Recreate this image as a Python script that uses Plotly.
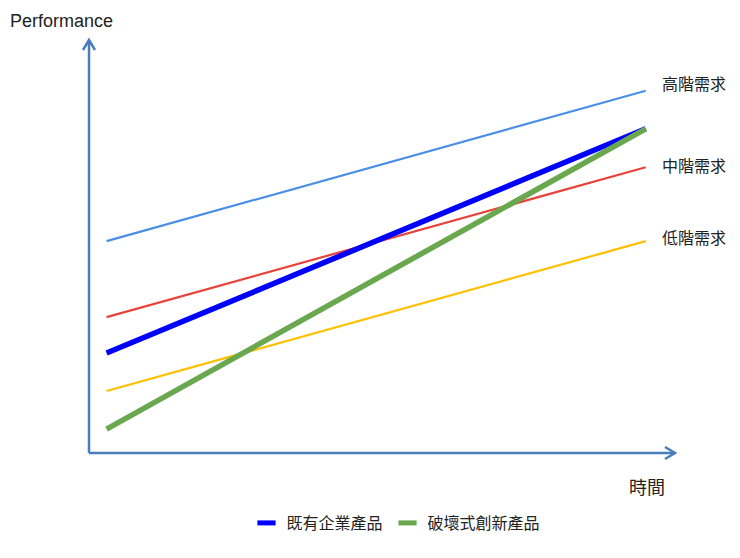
import plotly.graph_objects as go

x_vals = [3, 95]
high_demand = [51.3, 87.7]
mid_demand = [32.9, 69.2]
low_demand = [15.0, 51.3]
incumbent = [24.2, 78.5]
disruptive = [5.8, 78.5]

demand_labels = ["高階需求", "中階需求", "低階需求"]
legend_names = ["既有企業產品", "破壞式創新產品"]
x_title = "時間"
y_title = "Performance"

CJK = "Noto Sans CJK TC"
AXIS_COLOR = "#4a7ebb"
BLUE = "#0000ff"
GREEN = "#6aa84f"

fig = go.Figure()
fig.add_trace(go.Scatter(x=x_vals, y=high_demand, mode="lines",
                         line=dict(color="#4a8fe7", width=2.2), showlegend=False))
fig.add_trace(go.Scatter(x=x_vals, y=mid_demand, mode="lines",
                         line=dict(color="#e8433a", width=2.2), showlegend=False))
fig.add_trace(go.Scatter(x=x_vals, y=low_demand, mode="lines",
                         line=dict(color="#ffc000", width=2.2), showlegend=False))
fig.add_trace(go.Scatter(x=x_vals, y=incumbent, mode="lines", name=legend_names[0],
                         line=dict(color=BLUE, width=5.5), showlegend=False))
fig.add_trace(go.Scatter(x=x_vals, y=disruptive, mode="lines", name=legend_names[1],
                         line=dict(color=GREEN, width=5.5), showlegend=False))
# legend swatches (short thick bars)
for name, col in zip(legend_names, [BLUE, GREEN]):
    fig.add_trace(go.Scatter(x=[None], y=[None], mode="markers", name=name,
                             marker=dict(symbol="line-ew", size=13,
                                         line=dict(color=col, width=5))))

W, H = 740, 558
pw, ph = 586, 413
ml, mt = 81, 32
mr, mb = W - ml - pw, H - mt - ph
px_x = 1 / pw
px_y = 1 / ph

line_style = dict(color=AXIS_COLOR, width=2.5)
shapes = [
    dict(type="line", xref="paper", yref="paper", x0=0, y0=0, x1=0, y1=1, line=line_style),
    dict(type="line", xref="paper", yref="paper", x0=0, y0=0, x1=1, y1=0, line=line_style),
    dict(type="path", xref="paper", yref="paper",
         path=f"M {-6*px_x} {1-10*px_y} L 0 1 L {6*px_x} {1-10*px_y}", line=line_style),
    dict(type="path", xref="paper", yref="paper",
         path=f"M {1-10*px_x} {6*px_y} L 1 0 L {1-10*px_x} {-6*px_y}", line=line_style),
]

annotations = []
for lab, series, ys in zip(demand_labels, [high_demand, mid_demand, low_demand], [8, 2, 4]):
    annotations.append(dict(x=97.4, y=series[-1], xref="x", yref="y", text=lab,
                            showarrow=False, xanchor="left", yanchor="middle",
                            yshift=ys, font=dict(family=CJK, size=16, color="#222")))
annotations.append(dict(x=(647 - 89) / pw, y=(453 - 486) / ph, xref="paper", yref="paper",
                        text=x_title, showarrow=False, xanchor="center", yanchor="middle",
                        font=dict(family=CJK, size=18, color="#222")))
annotations.append(dict(x=-ml / pw, y=(453 - 21) / ph, xref="paper", yref="paper",
                        text=y_title, showarrow=False, xanchor="left", yanchor="middle",
                        font=dict(family="Liberation Sans, Arial", size=18, color="#222")))

fig.update_layout(
    width=W, height=H,
    margin=dict(l=ml, r=mr, t=mt, b=mb),
    paper_bgcolor="white", plot_bgcolor="white",
    xaxis=dict(range=[0, 100], visible=False, fixedrange=True),
    yaxis=dict(range=[0, 100], visible=False, fixedrange=True),
    shapes=shapes,
    annotations=annotations,
    showlegend=True,
    legend=dict(orientation="h", x=(396 - 89) / pw, xanchor="center",
                y=(453 - 523) / ph, yanchor="middle",
                font=dict(family=CJK, size=16, color="#222")),
)

fig.write_html("out.html")
